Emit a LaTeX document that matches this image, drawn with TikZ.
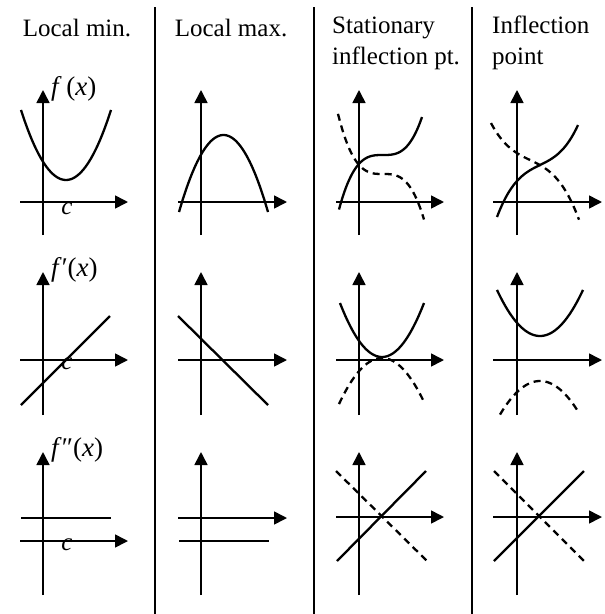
\documentclass[tikz,border=0pt]{standalone}
\usepackage{fontspec}
\setmainfont{Liberation Serif}
\usetikzlibrary{arrows.meta}
\begin{document}
\begin{tikzpicture}[x=1pt,y=-1pt,
  axis/.style={line width=1.6pt,-{Triangle[length=13pt,width=13pt]}},
  bare/.style={line width=1.6pt},
  crv/.style={line width=2.3pt},
  dsh/.style={line width=2.3pt,dash pattern=on 7pt off 5pt},
  sep/.style={line width=1.8pt},
  ttl/.style={font=\fontsize{25}{30}\selectfont,inner sep=0pt,anchor=base west},
  lbl/.style={font=\fontsize{27}{30}\selectfont,inner sep=0pt,anchor=west},
  cl/.style={font=\fontsize{25}{28}\selectfont\itshape,inner sep=0pt,anchor=north}]
\useasboundingbox (0,0) rectangle (605,614);
% separators
\draw[sep] (155,7) -- (155,614);
\draw[sep] (314,7) -- (314,614);
\draw[sep] (472,7) -- (472,614);
% titles
\node[ttl,anchor=base] (t1) at (77,36) {Local min.};
\node[ttl,anchor=base] (t2) at (231,36) {Local max.};
\node[ttl] (t3a) at (332,33) {Stationary};
\node[ttl] (t3b) at (332,64) {inflection pt.};
\node[ttl] (t4a) at (492,33) {Inflection};
\node[ttl] (t4b) at (492,64) {point};
% labels
\node[lbl] (l1) at (51,89) {\itshape f\/\upshape\,(\itshape x\/\upshape)};
\node[lbl] (l2) at (51,270) {\itshape f\/\upshape′(\itshape x\/\upshape)};
\node[lbl] (l3) at (51,450) {\itshape f\/\upshape″(\itshape x\/\upshape)};
\node[cl] (c1) at (67,203) {c};
\node[cl] (c2) at (67,358) {c};
\node[cl] (c3) at (67,539) {c};
% ---------- row 1 ----------
\draw[axis] (43,235) -- (43,90);   \draw[axis] (20,202) -- (128,202);
\draw[axis] (201,235) -- (201,90); \draw[axis] (178,202) -- (287,202);
\draw[axis] (359,235) -- (359,90); \draw[axis] (336,202) -- (444,202);
\draw[axis] (517,235) -- (517,90); \draw[axis] (493,202) -- (602,202);
\draw[crv] plot[domain=21:111,samples=50,smooth] (\x,{180-0.03457*(\x-66)^2});
\draw[crv] plot[domain=179:268,samples=50,smooth] (\x,{135+0.0389*(\x-223.5)^2});
\draw[crv] plot[domain=339:422,samples=50,smooth] (\x,{155-0.64*((\x-383)/10)^3});
\draw[dsh] plot[domain=338:424,samples=50,smooth] (\x,{174+0.66*((\x-383)/10)^3});
\draw[crv] plot[domain=497:578,samples=50,smooth] (\x,{165-0.39*((\x-540)/10)^3-4.89*((\x-540)/10)});
\draw[dsh] plot[domain=491:579,samples=50,smooth] (\x,{160+0.308*((\x-530)/10)^3+4.79*((\x-530)/10)});
% ---------- row 2 ----------
\draw[axis] (43,415) -- (43,272);   \draw[axis] (20,360) -- (128,360);
\draw[axis] (201,415) -- (201,272); \draw[axis] (178,360) -- (287,360);
\draw[axis] (359,415) -- (359,272); \draw[axis] (336,360) -- (444,360);
\draw[axis] (517,415) -- (517,272); \draw[axis] (493,360) -- (602,360);
\draw[crv] (21,405) -- (110,316);
\draw[crv] (178,316) -- (268,405);
\draw[crv] plot[domain=340:424,samples=50,smooth] (\x,{357-0.0306*(\x-382)^2});
\draw[dsh] plot[domain=339:425,samples=50,smooth] (\x,{358+0.0249*(\x-382)^2});
\draw[crv] plot[domain=497:583,samples=50,smooth] (\x,{336-0.0249*(\x-540)^2});
\draw[dsh] plot[domain=500:579,samples=50,smooth] (\x,{381+0.021*(\x-540)^2});
% ---------- row 3 ----------
\draw[axis] (43,595) -- (43,452);   \draw[axis] (20,541) -- (128,541);
\draw[bare] (21,518) -- (111,518);
\draw[axis] (201,595) -- (201,452); \draw[axis] (178,518) -- (287,518);
\draw[bare] (179,541) -- (269,541);
\draw[axis] (359,595) -- (359,452); \draw[axis] (336,517) -- (444,517);
\draw[crv] (337,561) -- (426,471);
\draw[dsh] (336,471) -- (427,561);
\draw[axis] (517,595) -- (517,452); \draw[axis] (493,517) -- (602,517);
\draw[crv] (494,561) -- (584,471);
\draw[dsh] (494,471) -- (584,561);
\end{tikzpicture}
\end{document}
